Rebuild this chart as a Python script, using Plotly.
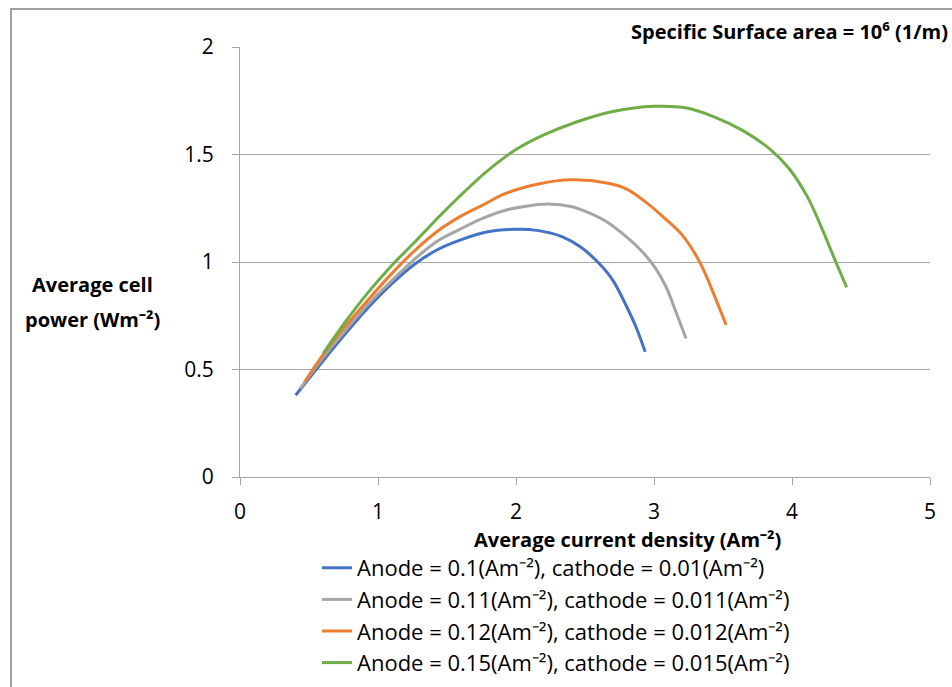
import plotly.graph_objects as go

# Data
blue_x = [0.403, 0.587, 0.755, 0.923, 1.091, 1.258, 1.426, 1.594, 1.795, 1.997, 2.164, 2.332, 2.466, 2.601, 2.701, 2.802, 2.869, 2.936]
blue_y = [0.380, 0.528, 0.660, 0.784, 0.893, 0.986, 1.056, 1.102, 1.141, 1.152, 1.146, 1.118, 1.071, 0.994, 0.916, 0.792, 0.699, 0.582]

gray_x = [0.436, 0.587, 0.755, 0.923, 1.091, 1.258, 1.426, 1.594, 1.762, 1.930, 2.097, 2.232, 2.399, 2.534, 2.668, 2.768, 2.903, 3.003, 3.087, 3.154, 3.232]
gray_y = [0.411, 0.543, 0.675, 0.800, 0.908, 1.009, 1.095, 1.152, 1.204, 1.242, 1.262, 1.270, 1.258, 1.227, 1.183, 1.134, 1.056, 0.978, 0.885, 0.776, 0.644]

orange_x = [0.470, 0.587, 0.755, 0.923, 1.091, 1.258, 1.426, 1.594, 1.762, 1.930, 2.164, 2.400, 2.668, 2.802, 2.936, 3.070, 3.205, 3.305, 3.372, 3.440, 3.523]
orange_y = [0.443, 0.555, 0.695, 0.820, 0.940, 1.048, 1.141, 1.211, 1.266, 1.320, 1.363, 1.382, 1.366, 1.339, 1.281, 1.208, 1.125, 1.030, 0.945, 0.840, 0.707]

green_x = [0.604, 0.755, 0.923, 1.091, 1.258, 1.426, 1.594, 1.795, 1.997, 2.198, 2.433, 2.701, 3.003, 3.238, 3.440, 3.641, 3.842, 3.977, 4.111, 4.211, 4.312, 4.396]
green_y = [0.575, 0.714, 0.854, 0.978, 1.087, 1.200, 1.307, 1.425, 1.522, 1.590, 1.650, 1.700, 1.724, 1.716, 1.674, 1.612, 1.524, 1.436, 1.304, 1.165, 1.009, 0.882]

names = [
    "Anode = 0.1(Am\u207b\u00b2), cathode = 0.01(Am\u207b\u00b2)",
    "Anode = 0.11(Am\u207b\u00b2), cathode = 0.011(Am\u207b\u00b2)",
    "Anode = 0.12(Am\u207b\u00b2), cathode = 0.012(Am\u207b\u00b2)",
    "Anode = 0.15(Am\u207b\u00b2), cathode = 0.015(Am\u207b\u00b2)",
]
colors = ["#4472C4", "#A5A5A5", "#ED7D31", "#70AD47"]
x_ticks = [0, 1, 2, 3, 4, 5]
y_ticks = [0, 0.5, 1, 1.5, 2]
y_tick_text = ["0", "0.5", "1", "1.5", "2"]

FONT = "Open Sans"

fig = go.Figure()
for xs, ys, nm, c in zip([blue_x, gray_x, orange_x, green_x],
                         [blue_y, gray_y, orange_y, green_y], names, colors):
    fig.add_trace(go.Scatter(x=xs, y=ys, mode="lines", name=nm,
                             line=dict(color=c, width=3, shape="spline", smoothing=1.0)))

L, R, T, B = 240, 22, 47, 210
W, H = 952, 687
pw = W - L - R
ph = H - T - B

def px2x(px):
    return (px - L) / pw

def py2y(py):
    return (H - B - py) / ph

fig.update_layout(
    width=W, height=H,
    margin=dict(l=L, r=R, t=T, b=B, pad=0, autoexpand=False),
    paper_bgcolor="white", plot_bgcolor="white",
    font=dict(family=FONT, size=21, color="black"),
    showlegend=True,
    legend=dict(x=px2x(317), y=py2y(547), xanchor="left", yanchor="top",
                font=dict(family=FONT, size=22, color="black"),
                tracegroupgap=0, bgcolor="rgba(0,0,0,0)", itemwidth=30),
    xaxis=dict(range=[0, 5], tickvals=x_ticks, showgrid=False, zeroline=False,
               showline=True, linecolor="#A6A6A6", linewidth=1,
               ticks="outside", ticklen=7, tickcolor="#A6A6A6",
               ticklabelstandoff=9,
               tickfont=dict(family=FONT, size=21, color="black")),
    yaxis=dict(range=[0, 2], tickvals=y_ticks, ticktext=y_tick_text,
               showgrid=True, gridcolor="#A6A6A6", gridwidth=1, zeroline=False,
               showline=True, linecolor="#A6A6A6", linewidth=1,
               ticks="outside", ticklen=7, tickcolor="#A6A6A6",
               ticklabelstandoff=14,
               tickfont=dict(family=FONT, size=21, color="black")),
)

fig.add_annotation(text="<b>Specific Surface area = 10\u2076 (1/m)</b>",
                   xref="paper", yref="paper", x=px2x(950), y=py2y(32),
                   xanchor="right", yanchor="middle", showarrow=False,
                   font=dict(family=FONT, size=20, color="black"))
fig.add_annotation(text="<b>Average current density (Am\u207b\u00b2)</b>",
                   xref="paper", yref="paper", x=px2x(627), y=py2y(539),
                   xanchor="center", yanchor="middle", showarrow=False,
                   font=dict(family=FONT, size=20, color="black"))
fig.add_annotation(text="<b>Average cell</b>",
                   xref="paper", yref="paper", x=px2x(92), y=py2y(284),
                   xanchor="center", yanchor="middle", showarrow=False,
                   font=dict(family=FONT, size=20, color="black"))
fig.add_annotation(text="<b>power (Wm\u207b\u00b2)</b>",
                   xref="paper", yref="paper", x=px2x(92), y=py2y(319),
                   xanchor="center", yanchor="middle", showarrow=False,
                   font=dict(family=FONT, size=20, color="black"))

# outer frame lines (left and top)
fig.add_shape(type="line", xref="paper", yref="paper",
              x0=px2x(11), x1=px2x(11), y0=py2y(8), y1=py2y(H + 5),
              line=dict(color="#A0A0A0", width=2))
fig.add_shape(type="line", xref="paper", yref="paper",
              x0=px2x(10), x1=px2x(W + 5), y0=py2y(9), y1=py2y(9),
              line=dict(color="#A0A0A0", width=2))

fig.write_html("out.html", config={"displayModeBar": False},
               post_script="document.body.style.margin='0';document.body.style.overflow='hidden';")
